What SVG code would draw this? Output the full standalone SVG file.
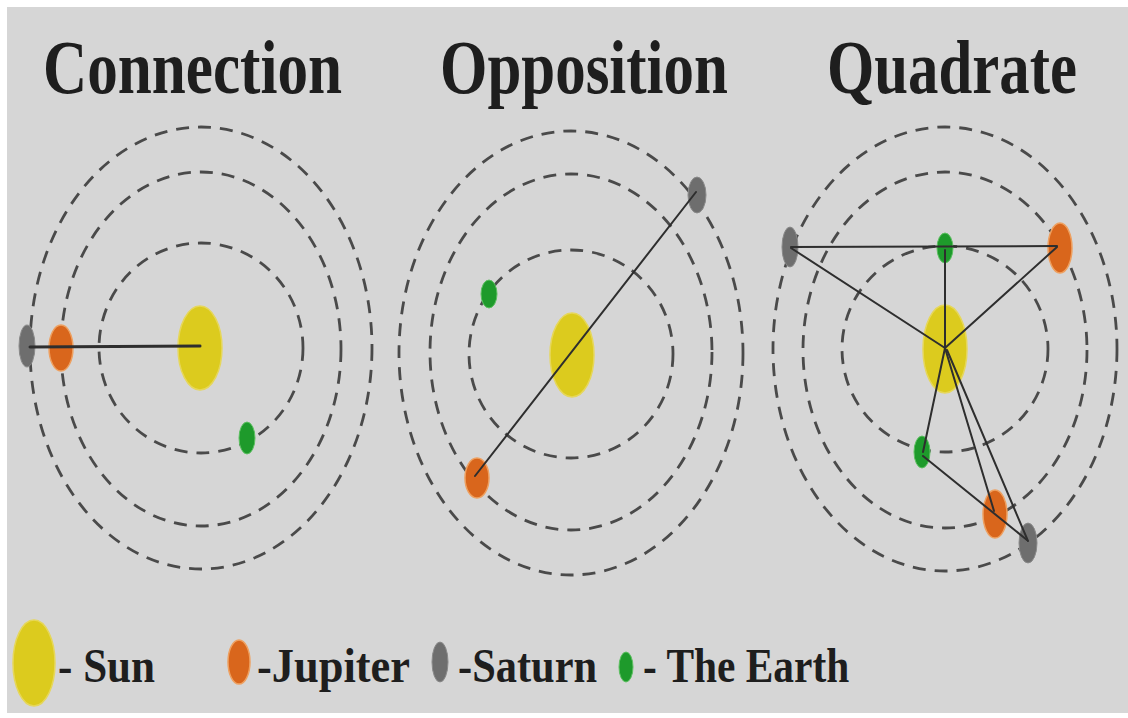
<svg xmlns="http://www.w3.org/2000/svg" width="1128" height="718" viewBox="0 0 1128 718">
<style>
.bg{fill:#d6d6d6}
.orbit{fill:none;stroke:#4a4a4a;stroke-width:2.8;stroke-dasharray:13 9}
.sun{fill:#dccb1e;stroke:#e6d75a;stroke-width:1.5}
.jup{fill:#d9661c;stroke:#eea060;stroke-width:1.5}
.sat{fill:#6e6e6e;stroke:#8a8a8a;stroke-width:1}
.ear{fill:#1e9a2b;stroke:#5cc060;stroke-width:1}
.link{stroke:#2e2e2e;stroke-width:2;fill:none;stroke-linecap:round}
.title{font-family:"Liberation Serif","Times New Roman",serif;font-weight:bold;font-size:76px;fill:#1e1e1e}
.leg{font-family:"Liberation Serif","Times New Roman",serif;font-weight:bold;font-size:48px;fill:#1e1e1e}
</style>
<rect x="0" y="0" width="1128" height="718" fill="#ffffff"/>
<rect class="bg" x="7" y="7" width="1121" height="706"/>

<g id="titles">
<text class="title" transform="translate(43,93) scale(0.805,1)">Connection</text>
<text class="title" transform="translate(440,93) scale(0.802,1)">Opposition</text>
<text class="title" transform="translate(827,93) scale(0.8,1)">Quadrate</text>
</g>

<g id="orbits">
<ellipse class="orbit" cx="201" cy="348" rx="102" ry="105"/>
<ellipse class="orbit" cx="201" cy="349" rx="140" ry="177"/>
<ellipse class="orbit" cx="201" cy="348" rx="171" ry="221"/>
<ellipse class="orbit" cx="571" cy="354" rx="102" ry="104"/>
<ellipse class="orbit" cx="571" cy="352" rx="141" ry="178"/>
<ellipse class="orbit" cx="571" cy="353" rx="172" ry="222"/>
<ellipse class="orbit" cx="945" cy="349" rx="103" ry="103"/>
<ellipse class="orbit" cx="945" cy="350" rx="142" ry="178"/>
<ellipse class="orbit" cx="945" cy="349" rx="172" ry="222"/>
</g>

<g id="connection-panel">
<g id="c-sun"><ellipse class="sun" cx="200" cy="348" rx="22" ry="42"/></g>
<g id="c-saturn"><ellipse class="sat" cx="27" cy="346" rx="8" ry="21"/></g>
<g id="c-jupiter"><ellipse class="jup" cx="61" cy="348" rx="12" ry="23"/></g>
<g id="c-earth"><ellipse class="ear" cx="247" cy="438" rx="8" ry="16"/></g>
</g>

<g id="opposition-panel">
<g id="o-sun"><ellipse class="sun" cx="572" cy="355" rx="22" ry="42"/></g>
<g id="o-saturn"><ellipse class="sat" cx="697" cy="195" rx="9" ry="18"/></g>
<g id="o-jupiter"><ellipse class="jup" cx="477" cy="478" rx="12" ry="20"/></g>
<g id="o-earth"><ellipse class="ear" cx="489" cy="294" rx="8" ry="14"/></g>
</g>

<g id="quadrate-panel">
<g id="q-sun"><ellipse class="sun" cx="945" cy="349" rx="22" ry="44"/></g>
<g id="q-saturn-1"><ellipse class="sat" cx="790" cy="247" rx="8" ry="20"/></g>
<g id="q-earth-1"><ellipse class="ear" cx="945" cy="248" rx="8" ry="15"/></g>
<g id="q-jupiter-1"><ellipse class="jup" cx="1060" cy="248" rx="12" ry="25"/></g>
<g id="q-earth-2"><ellipse class="ear" cx="922" cy="452" rx="8" ry="16"/></g>
<g id="q-jupiter-2"><ellipse class="jup" cx="995" cy="514" rx="12" ry="24"/></g>
<g id="q-saturn-2"><ellipse class="sat" cx="1028" cy="543" rx="9" ry="20"/></g>
</g>

<g id="connectors">
<line class="link" x1="30" y1="347" x2="200" y2="346" style="stroke-width:3"/>
<line class="link" x1="475" y1="476" x2="696" y2="192"/>
<line class="link" x1="791" y1="247" x2="1057" y2="246"/>
<line class="link" x1="791" y1="248" x2="945" y2="348"/>
<line class="link" x1="1057" y1="247" x2="945" y2="348"/>
<line class="link" x1="945" y1="250" x2="945" y2="348"/>
<line class="link" x1="923" y1="452" x2="945" y2="348"/>
<line class="link" x1="923" y1="456" x2="1027" y2="540"/>
<line class="link" x1="945" y1="348" x2="994" y2="511"/>
<line class="link" x1="947" y1="350" x2="1028" y2="541"/>
</g>

<g id="legend">
<g id="l-sun"><ellipse class="sun" cx="34" cy="663" rx="21" ry="43"/>
<text class="leg" transform="translate(58,682) scale(0.898,1)">- Sun</text></g>
<g id="l-jupiter"><ellipse class="jup" cx="239" cy="662" rx="11" ry="22"/>
<text class="leg" transform="translate(257,682) scale(0.926,1)">-Jupiter</text></g>
<g id="l-saturn"><ellipse class="sat" cx="440" cy="662" rx="8" ry="20"/>
<text class="leg" transform="translate(458,682) scale(0.884,1)">-Saturn</text></g>
<g id="l-earth"><ellipse class="ear" cx="626" cy="667" rx="7" ry="15"/>
<text class="leg" transform="translate(643,682) scale(0.8625,1)">- The Earth</text></g>
</g>
</svg>
